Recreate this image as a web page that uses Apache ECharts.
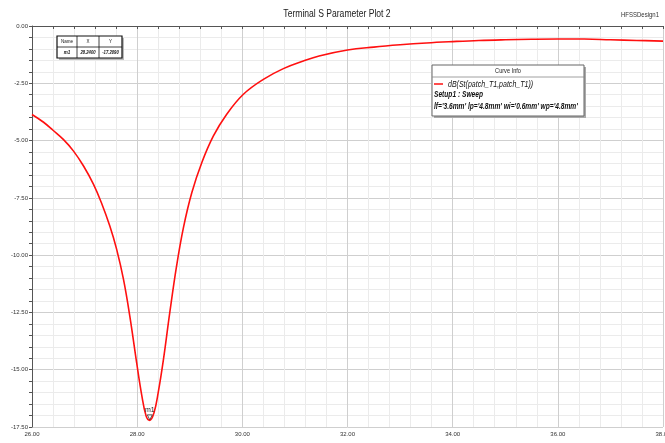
<!DOCTYPE html>
<html>
<head>
<meta charset="utf-8">
<script src="https://cdn.jsdelivr.net/npm/echarts@6/dist/echarts.min.js"></script>
<style>
html,body{margin:0;padding:0;background:#fff;}
#c{width:665px;height:443px;}
</style>
</head>
<body>
<div id="c"></div>
<script>
const freqGHz = [26.0, 26.22, 26.4, 26.6, 26.79, 26.98, 27.17, 27.32, 27.48, 27.61, 27.74, 27.86, 27.99, 28.09, 28.17, 28.24, 28.32, 28.4, 28.5, 28.62, 28.75, 28.88, 29.04, 29.23, 29.45, 29.7, 30.02, 30.4, 30.78, 31.16, 31.46, 32.0, 32.5, 33.0, 33.5, 34.0, 34.5, 35.0, 35.5, 36.0, 36.5, 37.0, 37.5, 38.0];
const s11dB = [-3.86, -4.2, -4.55, -4.96, -5.46, -6.11, -6.91, -7.71, -8.73, -9.75, -11.06, -12.66, -14.69, -16.15, -17.02, -17.21, -16.88, -16.0, -14.55, -12.51, -10.47, -8.8, -7.27, -5.96, -4.8, -3.86, -2.98, -2.33, -1.86, -1.53, -1.31, -1.05, -0.92, -0.82, -0.74, -0.68, -0.63, -0.6, -0.58, -0.57, -0.57, -0.6, -0.63, -0.66];
const markerName = ["m1"];
const markerX = [28.24];
const markerY = [-17.209];
const xTickStep = 2;
const yTickStep = 2.5;

const F = "'Liberation Sans',Arial,sans-serif";
const chart = echarts.init(document.getElementById('c'));
const pts = freqGHz.map((f, i) => [f, s11dB[i]]);

function txt(x, y, text, font, opts) {
  opts = opts || {};
  return { type: 'text', x: x, y: y, z: 13, scaleX: opts.sx || 0.8, scaleY: 1,
    style: { text: text, font: font, fill: opts.fill || '#111',
      align: opts.align || 'left', verticalAlign: 'middle' } };
}

chart.setOption({
  animation: false,
  backgroundColor: '#ffffff',
  grid: { left: 32, right: 2, top: 26, bottom: 16, outerBoundsMode: 'none', containLabel: false },
  xAxis: {
    type: 'value', min: 26, max: 38, interval: xTickStep,
    name: 'Freq [GHz]', nameLocation: 'middle', nameGap: 13,
    nameTextStyle: { fontFamily: F, fontSize: 6, color: '#333' },
    axisLine: { lineStyle: { color: '#555', width: 1 } },
    axisTick: { show: true, length: 3, lineStyle: { color: '#555' } },
    minorTick: { show: true, splitNumber: 5, length: 3, lineStyle: { color: '#555' } },
    splitLine: { show: true, lineStyle: { color: '#cfcfcf', width: 1 } },
    minorSplitLine: { show: true, lineStyle: { color: '#ebebeb', width: 1 } },
    axisLabel: { fontFamily: F, fontSize: 6, color: '#333', margin: 4,
      formatter: v => v.toFixed(2) }
  },
  yAxis: {
    type: 'value', min: -17.5, max: 0, interval: yTickStep,
    name: 'dB(St(patch_T1,patch_T1))', nameLocation: 'middle', nameGap: 22,
    nameRotate: 90,
    nameTextStyle: { fontFamily: F, fontSize: 6, color: '#333' },
    axisLine: { show: true, lineStyle: { color: '#555', width: 1 } },
    axisTick: { show: true, length: 3, lineStyle: { color: '#555' } },
    minorTick: { show: true, splitNumber: 5, length: 3, lineStyle: { color: '#555' } },
    splitLine: { show: true, lineStyle: { color: '#cfcfcf', width: 1 } },
    minorSplitLine: { show: true, lineStyle: { color: '#ebebeb', width: 1 } },
    axisLabel: { fontFamily: F, fontSize: 6, color: '#333', margin: 4,
      formatter: v => v.toFixed(2) }
  },
  series: [{
    type: 'line', data: pts, smooth: 0.4, showSymbol: false,
    lineStyle: { color: '#ff1010', width: 1.6 },
    markPoint: {
      symbol: 'triangle', symbolSize: 5, symbolRotate: 180, symbolOffset: [0, -3],
      itemStyle: { color: 'rgba(0,0,0,0)', borderColor: '#333', borderWidth: 0.8 },
      label: { show: true, position: 'top', distance: 1, fontFamily: F, fontSize: 7, color: '#222',
        formatter: p => p.name },
      data: markerName.map((n, i) => ({ name: n, coord: [markerX[i], markerY[i]] }))
    }
  }],
  graphic: [
    txt(337, 14, 'Terminal S Parameter Plot 2', '11px ' + F, { align: 'center', sx: 0.78, fill: '#222' }),
    txt(640, 15, 'HFSSDesign1', '8px ' + F, { align: 'center', sx: 0.75, fill: '#333' }),
    // marker table
    { type: 'rect', shape: { x: 59, y: 38, width: 65, height: 22 }, style: { fill: '#bbb' }, z: 10 },
    { type: 'rect', shape: { x: 57, y: 36, width: 65, height: 22 }, style: { fill: '#fff', stroke: '#111', lineWidth: 1.2 }, z: 11 },
    { type: 'polyline', shape: { points: [[57, 47], [122, 47]] }, style: { stroke: '#111', lineWidth: 0.8 }, z: 12 },
    { type: 'polyline', shape: { points: [[77, 36], [77, 58]] }, style: { stroke: '#111', lineWidth: 0.8 }, z: 12 },
    { type: 'polyline', shape: { points: [[99, 36], [99, 58]] }, style: { stroke: '#111', lineWidth: 0.8 }, z: 12 },
    txt(67, 41.5, 'Name', '6px ' + F, { align: 'center', sx: 0.75 }),
    txt(88, 41.5, 'X', '6px ' + F, { align: 'center', sx: 0.75 }),
    txt(110.5, 41.5, 'Y', '6px ' + F, { align: 'center', sx: 0.75 }),
    txt(67, 52.5, markerName[0], 'italic bold 6px ' + F, { align: 'center', sx: 0.75 }),
    txt(88, 52.5, markerX[0].toFixed(4), 'italic bold 6px ' + F, { align: 'center', sx: 0.7 }),
    txt(110.5, 52.5, markerY[0].toFixed(4), 'italic bold 6px ' + F, { align: 'center', sx: 0.7 }),
    // curve info legend
    { type: 'rect', shape: { x: 434, y: 67, width: 152, height: 51 }, style: { fill: '#aaa' }, z: 10 },
    { type: 'rect', shape: { x: 432, y: 65, width: 152, height: 51 }, style: { fill: '#fff', stroke: '#666', lineWidth: 1 }, z: 11 },
    { type: 'polyline', shape: { points: [[432, 77], [584, 77]] }, style: { stroke: '#888', lineWidth: 0.8 }, z: 12 },
    txt(508, 71, 'Curve Info', '7px ' + F, { align: 'center', sx: 0.8, fill: '#222' }),
    { type: 'polyline', shape: { points: [[434, 84], [443, 84]] }, style: { stroke: '#ff1010', lineWidth: 1.5 }, z: 12 },
    txt(448, 84, 'dB(St(patch_T1,patch_T1))', 'italic 9px ' + F, { sx: 0.78 }),
    txt(434, 95, 'Setup1 : Sweep', 'italic bold 8.5px ' + F, { sx: 0.78 }),
    txt(434, 107, "lf='3.6mm' lp='4.8mm' wi='0.6mm' wp='4.8mm'", 'italic bold 8.5px ' + F, { sx: 0.78 })
  ]
});
</script>
</body>
</html>
